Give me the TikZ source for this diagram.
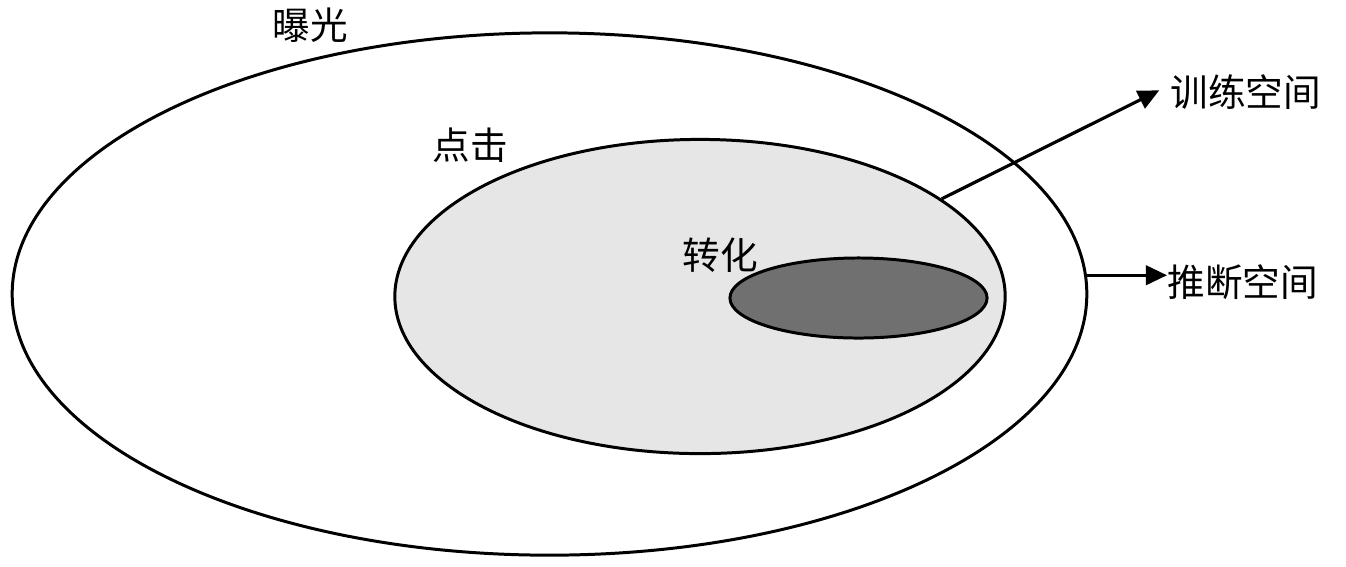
\documentclass[tikz,border=0pt]{standalone}
\usepackage{fontspec}
\setmainfont{Noto Sans CJK SC}
\usetikzlibrary{shapes.geometric,arrows.meta}
\definecolor{lightfill}{HTML}{E6E6E6}
\definecolor{darkfill}{HTML}{707070}
\begin{document}
\begin{tikzpicture}[x=0.01cm,y=-0.01cm,
  oval/.style={ellipse,draw,line width=0.85pt,inner sep=0pt},
  lbl/.style={inner sep=0pt,font=\fontsize{10.7pt}{12pt}\selectfont},
  arr/.style={line width=0.9pt,-{Triangle[length=6pt,width=5.5pt]}}]
\useasboundingbox (0,0) rectangle (1346,566);
\node[oval,minimum width=10.74cm,minimum height=5.22cm] (outer) at (549.5,294) {};
\node[oval,fill=lightfill,minimum width=6.10cm,minimum height=3.14cm] (mid) at (700,296.5) {};
\node[oval,fill=darkfill,minimum width=2.57cm,minimum height=0.80cm] (conv) at (858.5,298) {};
\node[lbl] (t1) at (310,25) {曝光};
\node[lbl] (t2) at (470,145) {点击};
\node[lbl] (t3) at (720,255) {转化};
\node[lbl,anchor=west] (train) at (1170,92) {训练空间};
\node[lbl,anchor=west] (infer) at (1167,282) {推断空间};
\draw[arr,shorten >=0.12cm] (mid.22) -- ([yshift=2pt]train.west);
\draw[arr] (outer.2.14) -- (outer.2.14 -| infer.west);
\end{tikzpicture}
\end{document}
